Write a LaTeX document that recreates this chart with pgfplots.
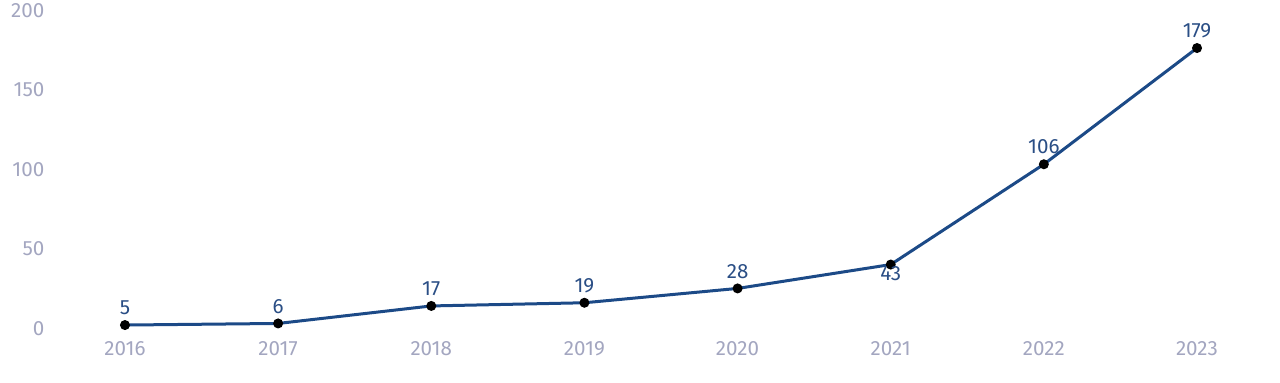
\documentclass[border=0pt]{standalone}
\usepackage{pgfplots}
\pgfplotsset{compat=1.18}
\usepackage{fontspec}
\setmainfont{Fira Sans}
\definecolor{linec}{HTML}{1C4A87}
\definecolor{labc}{HTML}{2A4E85}
\definecolor{tickc}{HTML}{A3A6C0}
\begin{document}
\begin{tikzpicture}
\useasboundingbox (-24.2pt,-24.5pt) rectangle (615.8pt,166.5pt);
\begin{axis}[
  scale only axis,
  width=612.6pt, height=159.2pt,
  xmin=2015.5, xmax=2023.5, ymin=0, ymax=200,
  axis line style={draw=none},
  tick style={draw=none},
  xtick={2016,...,2023},
  ytick={0,50,100,150,200},
  /pgf/number format/assume math mode=true,
  /pgf/number format/set thousands separator={},
  font=\fontsize{10.3}{12}\selectfont,
  xticklabel style={text=tickc, yshift=-0.5pt},
  yticklabel style={text=tickc, yshift=2.2pt, xshift=1.5pt},
  clip=false,
]
\addplot[color=linec, line width=1.5pt, mark=*, mark size=1.7pt,
  mark options={fill=black, draw=black}]
  coordinates {(2016,5) (2017,6) (2018,17) (2019,19) (2020,28) (2021,43) (2022,106) (2023,179)};
\addplot[draw=none, nodes near coords, point meta=explicit symbolic,
  nodes near coords style={text=labc, anchor=south, yshift=1.5pt, font=\fontsize{10.3}{12}\selectfont}]
  coordinates {(2016,5) [5] (2017,6) [6] (2018,17) [17] (2019,19) [19] (2020,28) [28] (2022,106) [106] (2023,179) [179]};
\addplot[draw=none, nodes near coords, point meta=explicit symbolic,
  nodes near coords style={text=labc, anchor=north, yshift=2.5pt, font=\fontsize{10.3}{12}\selectfont}]
  coordinates {(2021,43) [43]};
\end{axis}
\end{tikzpicture}
\end{document}
